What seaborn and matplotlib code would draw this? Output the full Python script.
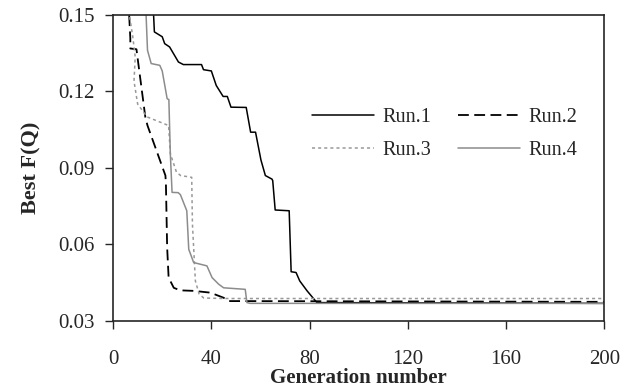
import numpy as np
import pandas as pd
import matplotlib
matplotlib.use("Agg")
import matplotlib.pyplot as plt
import seaborn as sns

# generation / best F(Q) traces
run1_gen = [0, 16, 16.8, 20, 21, 23, 26.6, 28.6, 36, 36.8, 40, 42, 44.8, 46.5, 48, 54.2,
            56, 58, 60.2, 62, 64.7, 65, 66, 71.7, 72.5, 74.5, 76, 79, 83, 200]
run1_val = [0.2, 0.16, 0.1433, 0.1414, 0.1387, 0.1374, 0.1315, 0.1305, 0.1305, 0.1285, 0.128,
            0.1223, 0.118, 0.118, 0.1138, 0.1137, 0.104, 0.104, 0.0931, 0.087, 0.0856, 0.085,
            0.0735, 0.0732, 0.0493, 0.049, 0.0457, 0.0418, 0.0372, 0.0369]

run2_gen = [0, 6, 7, 7, 9.5, 13.1, 14, 21.3, 21.5, 22, 22.6, 24.7, 27.3, 32.8, 39.6, 45, 47, 200]
run2_val = [0.2, 0.16, 0.1408, 0.1368, 0.1365, 0.11, 0.1066, 0.087, 0.0838, 0.0588, 0.047,
            0.043, 0.042, 0.0418, 0.0411, 0.0391, 0.0378, 0.0375]

run3_gen = [0, 5, 8, 9, 8.5, 10, 13.8, 22.6, 23.3, 25.8, 27.5, 32, 32.3, 33.5, 35, 36.9, 45, 200]
run3_val = [0.2, 0.16, 0.1414, 0.1335, 0.124, 0.115, 0.110, 0.1066, 0.0956, 0.0883, 0.087,
            0.0863, 0.068, 0.0457, 0.0406, 0.039, 0.0388, 0.0388]

run4_gen = [0, 13, 14, 15.5, 19, 20, 22, 22.7, 23.3, 24, 26.5, 27.4, 30, 30.8, 32.8, 38.2,
            40.3, 43, 45, 53.8, 54.5, 55.8, 200]
run4_val = [0.2, 0.16, 0.1361, 0.1309, 0.1302, 0.128, 0.1171, 0.1168, 0.0955, 0.0804, 0.0803,
            0.0795, 0.0732, 0.0581, 0.0529, 0.0516, 0.047, 0.0444, 0.043, 0.0424, 0.0372,
            0.0369, 0.0369]

runs = ["Run.1", "Run.2", "Run.3", "Run.4"]
gens = [run1_gen, run2_gen, run3_gen, run4_gen]
vals = [run1_val, run2_val, run3_val, run4_val]
colors = ["black", "black", "#999999", "#8c8c8c"]
styles = ["-", (0, (6, 3)), (0, (2, 2)), "-"]
widths = [1.1, 1.3, 1.1, 1.1]

sns.set_style("ticks")
plt.rcParams["font.family"] = ["Liberation Serif", "DejaVu Serif"]

fig = plt.figure(figsize=(6.32, 3.9), dpi=100)
ax = fig.add_axes([0.179, 0.177, 0.777, 0.785])

lines = {}
for name, g, v, c, ls, lw in zip(runs, gens, vals, colors, styles, widths):
    sns.lineplot(x=g, y=v, ax=ax, color=c, linestyle=ls, linewidth=lw,
                 label=name, sort=False, estimator=None)
    lines[name] = ax.lines[-1]

ax.set_xlim(0, 200)
ax.set_ylim(0.03, 0.15)
ax.set_xticks([0, 40, 80, 120, 160, 200])
ax.set_yticks([0.03, 0.06, 0.09, 0.12, 0.15])
ax.set_yticklabels(["0.03", "0.06", "0.09", "0.12", "0.15"])
ax.tick_params(axis="both", labelsize=15, direction="out", length=6, width=1)
ax.tick_params(axis="y", pad=7)
ax.tick_params(axis="x", pad=15)
for s in ax.spines.values():
    s.set_linewidth(1.2)
    s.set_visible(True)

ax.set_xlabel("Generation number", fontsize=15, fontweight="bold", labelpad=-1)
ax.set_ylabel("Best F(Q)", fontsize=16, fontweight="bold", labelpad=12)

# row-wise legend: Run.1 Run.2 / Run.3 Run.4
order = ["Run.1", "Run.3", "Run.2", "Run.4"]
ax.legend([lines[n] for n in order], order, ncol=2, frameon=False, fontsize=14.5,
          loc="upper left", bbox_to_anchor=(312 / 632, 1 - 108 / 390),
          bbox_transform=fig.transFigure, borderpad=0, borderaxespad=0,
          handlelength=3.1, handletextpad=0.4, columnspacing=1.3, labelspacing=0.68)

fig.savefig("out.png", dpi=100)
